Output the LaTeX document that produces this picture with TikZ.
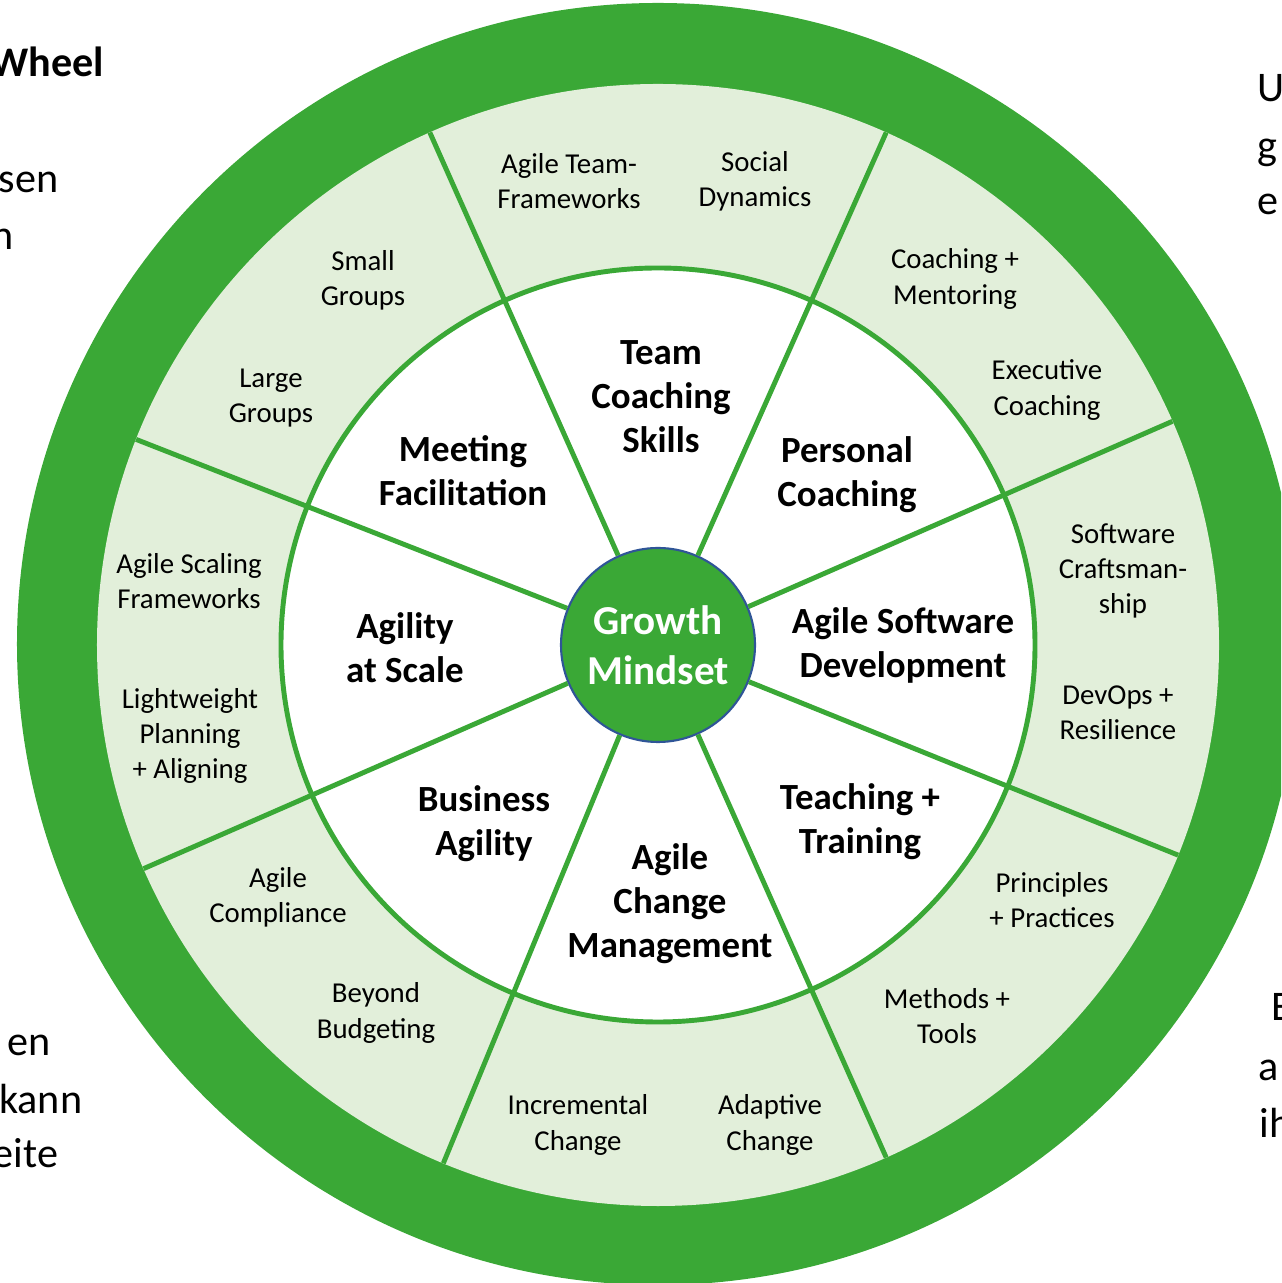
\documentclass[tikz,border=0pt]{standalone}
\usepackage{fontspec}
\setmainfont{Carlito}
\definecolor{wheelgreen}{RGB}{58,168,54}
\definecolor{bandgreen}{RGB}{226,239,218}
\definecolor{hubblue}{RGB}{47,85,151}
\tikzset{
	ring/.style={line width=1.4pt, draw=wheelgreen},
	skill/.style={align=center, inner sep=1pt, font=\fontsize{8.2}{10}\selectfont},
	field/.style={align=center, inner sep=1pt, font=\fontsize{10.5}{12.5}\selectfont\bfseries},
	slide/.style={inner sep=0pt, font=\fontsize{12}{16.5}\selectfont}
}
\begin{document}
\begin{tikzpicture}
	\useasboundingbox (-6.58,-6.38) rectangle (6.23,6.45);
	\begin{scope}
		\clip (-6.58,-6.38) rectangle (6.23,6.45);
		\fill[wheelgreen] (0,0.01) circle (6.41cm);
		\fill[bandgreen] (0,0) circle (5.61cm);
		\filldraw[ring, fill=white] (0,0) circle (3.77cm);
		\node[slide, anchor=base east, font=\fontsize{12}{16.5}\selectfont\bfseries] (wheel) at (-5.53,5.68) {Wheel};
		\node[slide, anchor=base east] (sen) at (-5.99,4.52) {sen};
		\node[slide, anchor=base east] (n) at (-6.44,3.95) {n};
		\node[slide, anchor=base east] (en) at (-6.07,-4.10) {en};
		\node[slide, anchor=base east] (kann) at (-5.75,-4.68) {kann};
		\node[slide, anchor=base east] (eite) at (-5.99,-5.22) {eite};
		\node[slide, anchor=base west] (u) at (5.99,5.43) {U};
		\node[slide, anchor=base west] (g) at (5.99,4.85) {g};
		\node[slide, anchor=base west] (e) at (5.99,4.30) {e};
		\node[slide, anchor=base west] (bigE) at (6.13,-3.75) {E};
		\node[slide, anchor=base west] (a) at (6.00,-4.35) {a};
		\node[slide, anchor=base west] (ih) at (6.01,-4.92) {ih};
	\end{scope}
	\node[circle, fill=wheelgreen, draw=hubblue, line width=0.6pt, minimum size=1.94cm, inner sep=0pt, text=white, align=center, font=\fontsize{11.7}{14.2}\selectfont\bfseries] (hub) at (0,0) {Growth\\Mindset};
	\foreach \a in {23.5,66,114,158.5,203.5,247.5,294,338}
		\draw[ring] (hub.\a) -- (\a:5.61);
	\node[field] (team) at (0.03,2.48) {Team\\Coaching\\Skills};
	\node[field] (personal) at (1.89,1.70) {Personal\\Coaching};
	\node[field] (software) at (2.45,0.00) {Agile Software\\Development};
	\node[field] (teaching) at (2.02,-1.77) {Teaching +\\Training};
	\node[field] (change) at (0.12,-2.59) {Agile\\Change\\Management};
	\node[field] (business) at (-1.74,-1.79) {Business\\Agility};
	\node[field] (scale) at (-2.53,-0.03) {Agility\\at Scale};
	\node[field] (meeting) at (-1.95,1.74) {Meeting\\Facilitation};
	\node[skill] (teamframe) at (-0.89,4.64) {Agile Team-\\Frameworks};
	\node[skill] (social) at (0.97,4.64) {Social\\Dynamics};
	\node[skill] (mentoring) at (2.97,3.66) {Coaching +\\Mentoring};
	\node[skill] (executive) at (3.89,2.55) {Executive\\Coaching};
	\node[skill] (craft) at (4.65,0.74) {Software\\Craftsman-\\ship};
	\node[skill] (devops) at (4.60,-0.68) {DevOps +\\Resilience};
	\node[skill] (principles) at (3.94,-2.55) {Principles\\+ Practices};
	\node[skill] (methods) at (2.89,-3.71) {Methods +\\Tools};
	\node[skill] (adaptive) at (1.12,-4.80) {Adaptive\\Change};
	\node[skill] (incremental) at (-0.80,-4.80) {Incremental\\Change};
	\node[skill] (budgeting) at (-2.82,-3.68) {Beyond\\Budgeting};
	\node[skill] (compliance) at (-3.80,-2.52) {Agile\\Compliance};
	\node[skill] (planning) at (-4.68,-0.91) {Lightweight\\Planning\\+ Aligning};
	\node[skill] (scaling) at (-4.69,0.64) {Agile Scaling\\Frameworks};
	\node[skill] (large) at (-3.87,2.47) {Large\\Groups};
	\node[skill] (small) at (-2.95,3.65) {Small\\Groups};
\end{tikzpicture}
\end{document}
